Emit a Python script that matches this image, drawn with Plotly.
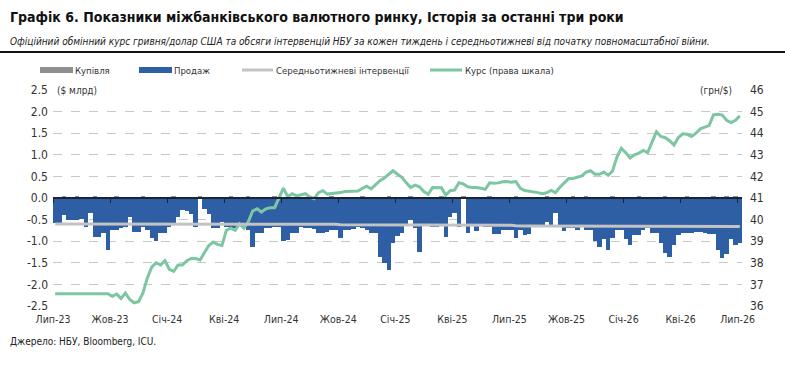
import plotly.graph_objects as go

# ---------------- data ----------------
weeks = list(range(157))
tick_positions = [-0.5, 12.5, 25.5, 38.5, 51.5, 64.5, 77.5, 90.5, 103.5, 116.5, 129.5, 142.5, 155.5]
tick_labels = ["Лип-23", "Жов-23", "Січ-24", "Кві-24", "Лип-24", "Жов-24", "Січ-25",
               "Кві-25", "Лип-25", "Жов-25", "Січ-26", "Кві-26", "Лип-26"]

left_tickvals = [2.5, 2.0, 1.5, 1.0, 0.5, 0.0, -0.5, -1.0, -1.5, -2.0, -2.5]
left_ticktext = ["2.5", "2.0", "1.5", "1.0", "0.5", "0.0", "-0.5", "-1.0", "-1.5", "-2.0", "-2.5"]

sales = [
    -0.58, -0.58, -0.39, -0.51, -0.50, -0.50, -0.48, -0.67, -0.35, -0.90, -0.90, -0.81, -1.20,
    -0.74, -0.74, -0.70, -0.67, -0.44, -0.78, -0.78, -0.67, -0.74, -0.93, -1.00, -0.80, -0.80,
    -0.66, -0.60, -0.44, -0.28, -0.30, -0.38, -0.67, 0.00, -0.25, -0.37, -0.70, -0.70, -0.55,
    -0.67, -0.70, -0.70, -0.60, -0.70, -0.74, -1.13, -0.80, -0.80, -0.70, -0.70, -0.67, -0.67,
    -1.00, -0.97, -0.81, -0.81, -0.66, -0.70, -0.70, -0.72, -0.80, -0.80, -0.78, -0.74, -0.74,
    -0.93, -0.74, -0.74, -0.72, -0.66, -0.69, -0.75, -0.80, -0.80, -1.36, -1.50, -1.66, -1.04,
    -0.89, -0.80, -0.60, -0.50, -0.70, -1.24, -0.63, -0.63, -0.67, -0.67, -0.60, -0.90, -0.45,
    -0.35, -0.67, 0.00, -0.80, -0.63, -0.76, -0.63, -0.67, -0.67, -0.83, -0.83, -0.74, -0.74,
    -0.74, -0.93, -0.74, -0.85, -0.83, -0.62, -0.62, -0.62, -0.55, -0.66, -0.35, -0.62, -0.76,
    -0.70, -0.70, -0.74, -0.67, -0.74, -0.74, -1.00, -1.13, -0.96, -1.20, -0.93, -0.74, -0.74,
    -0.96, -1.08, -0.85, -0.85, -0.74, -0.70, -0.81, -0.81, -1.04, -1.28, -1.36, -1.08, -0.85,
    -0.81, -0.81, -0.81, -0.78, -0.78, -0.81, -0.83, -0.83, -1.20, -1.40, -1.30, -0.96, -1.08,
    -1.03,
]

purchases = [
    0, 0, 0.03, 0, 0, 0.03, 0, 0, 0, 0.03, 0, 0, 0,
    0, 0.03, 0, 0, 0, 0, 0, 0.03, 0, 0, 0, 0, 0,
    0, 0.03, 0, 0, 0, 0, 0, 0.05, 0, 0, 0, 0, 0,
    0, 0.03, 0, 0, 0, 0.03, 0, 0, 0, 0, 0, 0.03, 0,
    0, 0, 0, 0, 0, 0, 0.03, 0, 0, 0, 0, 0.03, 0,
    0, 0, 0, 0, 0, 0.03, 0, 0, 0, 0, 0, 0.03, 0,
    0, 0, 0, 0.03, 0, 0, 0, 0, 0, 0, 0.03, 0, 0,
    0, 0, 0.04, 0, 0, 0, 0, 0, 0.03, 0, 0, 0, 0,
    0, 0.03, 0, 0, 0, 0, 0, 0, 0.03, 0, 0, 0, 0,
    0, 0.03, 0, 0, 0.03, 0, 0, 0, 0, 0, 0.03, 0, 0,
    0, 0, 0, 0.03, 0, 0, 0, 0, 0, 0.03, 0, 0, 0,
    0, 0.03, 0, 0, 0, 0, 0, 0.03, 0, 0, 0.03, 0, 0.03,
    0,
]

avg_interventions = [
    -0.60, -0.60, -0.60, -0.60, -0.60, -0.60, -0.60, -0.60, -0.60, -0.60, -0.60, -0.60, -0.60,
    -0.60, -0.60, -0.60, -0.60, -0.60, -0.60, -0.60, -0.60, -0.60, -0.60, -0.60, -0.60, -0.60,
    -0.60, -0.60, -0.60, -0.60, -0.60, -0.60, -0.60, -0.60, -0.60, -0.60, -0.60, -0.60, -0.60,
    -0.61, -0.61, -0.61, -0.61, -0.61, -0.61, -0.61, -0.61, -0.61, -0.61, -0.61, -0.61, -0.61,
    -0.61, -0.61, -0.61, -0.61, -0.61, -0.61, -0.61, -0.61, -0.61, -0.61, -0.61, -0.61, -0.61,
    -0.62, -0.62, -0.62, -0.62, -0.62, -0.62, -0.62, -0.62, -0.62, -0.62, -0.62, -0.62, -0.62,
    -0.62, -0.62, -0.62, -0.62, -0.62, -0.62, -0.62, -0.62, -0.62, -0.62, -0.62, -0.62, -0.62,
    -0.62, -0.62, -0.62, -0.62, -0.62, -0.62, -0.62, -0.62, -0.62, -0.62, -0.62, -0.62, -0.62,
    -0.63, -0.64, -0.65, -0.65, -0.65, -0.65, -0.65, -0.65, -0.65, -0.65, -0.65, -0.65, -0.66,
    -0.66, -0.66, -0.66, -0.66, -0.66, -0.66, -0.66, -0.66, -0.66, -0.66, -0.66, -0.66, -0.66,
    -0.66, -0.66, -0.66, -0.66, -0.66, -0.66, -0.66, -0.66, -0.66, -0.66, -0.66, -0.66, -0.66,
    -0.66, -0.66, -0.66, -0.66, -0.66, -0.66, -0.66, -0.66, -0.66, -0.66, -0.66, -0.66, -0.66,
    -0.66,
]

exchange_rate = [
    36.57, 36.57, 36.57, 36.57, 36.57, 36.57, 36.57, 36.57, 36.57, 36.57, 36.57, 36.57, 36.57,
    36.45, 36.55, 36.35, 36.60, 36.30, 36.15, 36.20, 36.60, 37.30, 37.80, 38.00, 37.90, 38.10,
    37.70, 37.60, 37.90, 37.90, 38.10, 38.20, 38.20, 38.13, 38.50, 38.80, 38.96, 38.85, 38.80,
    39.50, 39.60, 39.50, 39.80, 39.60, 39.90, 40.40, 40.50, 40.35, 40.50, 40.55, 40.55, 41.00,
    41.46, 41.06, 41.20, 41.10, 41.15, 41.20, 41.05, 40.97, 41.25, 41.34, 41.18, 41.20, 41.20,
    41.25, 41.30, 41.30, 41.30, 41.32, 41.45, 41.55, 41.42, 41.60, 41.80, 41.93, 42.10, 42.26,
    42.10, 41.96, 41.70, 41.48, 41.60, 41.52, 41.30, 41.18, 41.49, 41.49, 41.48, 41.14, 41.34,
    41.37, 41.71, 41.65, 41.52, 41.49, 41.49, 41.45, 41.40, 41.70, 41.68, 41.70, 41.75, 41.76,
    41.73, 41.76, 41.45, 41.35, 41.32, 41.30, 41.25, 41.20, 41.24, 41.35, 41.25, 41.50, 41.70,
    41.90, 41.90, 41.95, 42.02, 42.20, 42.26, 42.10, 42.10, 42.20, 42.05, 42.25, 42.90, 43.30,
    43.10, 42.85, 43.00, 43.08, 43.20, 43.10, 43.60, 44.07, 43.85, 43.79, 43.65, 43.45, 43.80,
    43.97, 43.95, 43.85, 44.00, 44.20, 44.28, 44.35, 44.85, 44.88, 44.84, 44.60, 44.49, 44.60,
    44.80,
]

# ---------------- styles ----------------
FONT = "Liberation Sans Narrow, Arial Narrow, DejaVu Sans Condensed, sans-serif"
BLUE = "#2E5FA5"
GRAY_BAR = "#8f8f8f"
AVG_COLOR = "#c3c3c3"
LINE_GREEN = "#7cc6a2"
TXT = "#333333"

fig = go.Figure()

fig.add_trace(go.Bar(x=weeks, y=purchases, name="Купівля", marker=dict(color=GRAY_BAR, line_width=0),
                     showlegend=False))
fig.add_trace(go.Bar(x=weeks, y=sales, name="Продаж", marker=dict(color=BLUE, line_width=0),
                     showlegend=False))
fig.add_trace(go.Scatter(x=weeks, y=avg_interventions, name="Середньотижневі інтервенції", mode="lines",
                         line=dict(color=AVG_COLOR, width=3), xaxis="x2", yaxis="y", showlegend=False))
fig.add_trace(go.Scatter(x=weeks, y=exchange_rate, name="Курс (права шкала)", mode="lines",
                         line=dict(color=LINE_GREEN, width=3), yaxis="y2", showlegend=False))

xr = [-0.5, 156.5]
fig.update_layout(
    width=796, height=369, autosize=False,
    margin=dict(l=53, r=54, t=90, b=63),
    paper_bgcolor="white", plot_bgcolor="white",
    barmode="relative", bargap=0,
    font=dict(family=FONT, size=12, color=TXT),
    xaxis=dict(range=xr, tickmode="array", tickvals=tick_positions, ticktext=tick_labels,
               showgrid=False, zeroline=False, showline=False, ticks="", ticklabelstandoff=5,
               tickfont=dict(family=FONT, size=10.5, color=TXT)),
    xaxis2=dict(range=xr, overlaying="x", anchor="free", position=0.5, side="bottom",
                tickmode="array", tickvals=tick_positions, showticklabels=False,
                showgrid=False, zeroline=False, showline=True, linecolor="#1c2333", linewidth=1.5,
                ticks="outside", ticklen=4, tickwidth=1, tickcolor="#1c2333"),
    yaxis=dict(range=[-2.5, 2.5], tickmode="array", tickvals=left_tickvals, ticktext=left_ticktext,
               showgrid=True, gridcolor="#c8c8c8", griddash="dash", gridwidth=1,
               zeroline=False, showline=False, ticks="", ticklabelstandoff=4,
               tickfont=dict(family=FONT, size=12, color=TXT)),
    yaxis2=dict(range=[36, 46], dtick=1, overlaying="y", side="right", showgrid=False,
                zeroline=False, showline=False, ticks="", ticklabelstandoff=7,
                tickfont=dict(family=FONT, size=12, color=TXT)),
)

W = 689.0
H = 216.0
def px(x):
    return (x - 53) / W
def py(y):
    return (306 - y) / H

annotations = [
    dict(text="<b>Графік 6. Показники міжбанківського валютного ринку, Історія за останні три роки</b>",
         x=px(8), y=py(17), xanchor="left", yanchor="middle",
         font=dict(family=FONT, size=14, color="#111111")),
    dict(text="<i>Офіційний обмінний курс гривня/долар США та обсяги інтервенцій НБУ за кожен тиждень і середньотижневі від початку повномасштабної війни.</i>",
         x=px(8), y=py(41), xanchor="left", yanchor="middle",
         font=dict(family=FONT, size=10, color="#222222")),
    dict(text="Джерело: НБУ, Bloomberg, ICU.", x=px(8), y=py(341), xanchor="left", yanchor="middle",
         font=dict(family=FONT, size=10, color="#222222")),
    dict(text="($ млрд)", x=px(55), y=1.0, xanchor="left", yanchor="middle", bgcolor="white",
         font=dict(family=FONT, size=10, color=TXT)),
    dict(text="(грн/$)", x=px(734), y=1.0, xanchor="right", yanchor="middle", bgcolor="white",
         font=dict(family=FONT, size=10, color=TXT)),
    dict(text="Купівля", x=px(73), y=py(70), xanchor="left", yanchor="middle",
         font=dict(family=FONT, size=9.5, color=TXT)),
    dict(text="Продаж", x=px(172), y=py(70), xanchor="left", yanchor="middle",
         font=dict(family=FONT, size=9.5, color=TXT)),
    dict(text="Середньотижневі інтервенції", x=px(274), y=py(70), xanchor="left", yanchor="middle",
         font=dict(family=FONT, size=9.5, color=TXT)),
    dict(text="Курс (права шкала)", x=px(463), y=py(70), xanchor="left", yanchor="middle",
         font=dict(family=FONT, size=9.5, color=TXT)),
]
for a in annotations:
    a.update(xref="paper", yref="paper", showarrow=False)
fig.update_layout(annotations=annotations)

shapes = [
    # rule under the subtitle
    dict(type="line", x0=px(0), x1=px(785), y0=py(52), y1=py(52), line=dict(color="#111111", width=2)),
    # legend swatches
    dict(type="rect", x0=px(40), x1=px(73), y0=py(73), y1=py(67), fillcolor=GRAY_BAR, line_width=0),
    dict(type="rect", x0=px(139), x1=px(172), y0=py(73), y1=py(67), fillcolor=BLUE, line_width=0),
    dict(type="line", x0=px(242), x1=px(273), y0=py(70), y1=py(70), line=dict(color=AVG_COLOR, width=3)),
    dict(type="line", x0=px(430), x1=px(462), y0=py(70), y1=py(70), line=dict(color=LINE_GREEN, width=3)),
]
for s in shapes:
    s.update(xref="paper", yref="paper")
fig.update_layout(shapes=shapes)

fig.write_html("out.html")
